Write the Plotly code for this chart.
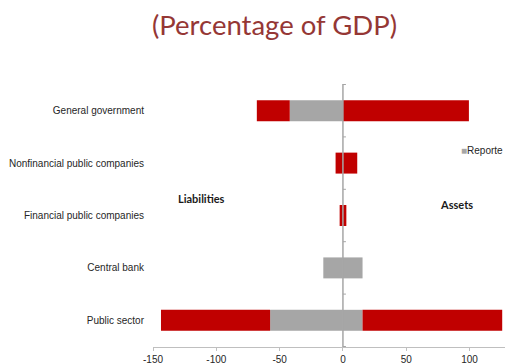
import plotly.graph_objects as go

# Public sector balance sheet, % of GDP
categories = [
    "General government",
    "Nonfinancial public companies",
    "Financial public companies",
    "Central bank",
    "Public sector",
]
reporte_liabilities = [-42.0, 0.0, 0.0, -15.5, -57.5]
reporte_assets = [0.0, 0.0, 0.0, 15.5, 15.5]
other_liabilities = [-26.0, -5.8, -2.6, 0.0, -86.2]
other_assets = [99.5, 11.3, 2.7, 0.0, 110.3]

x_ticks = [-150, -100, -50, 0, 50, 100]
x_range = [-150, 128]

RED = "#C00000"
GREY = "#A6A6A6"
AXIS_GREY = "#A6A6A6"
TEXT = "#262626"

fig = go.Figure()
for vals, color in [
    (reporte_liabilities, GREY),
    (reporte_assets, GREY),
    (other_liabilities, RED),
    (other_assets, RED),
]:
    fig.add_trace(go.Bar(
        y=categories, x=vals, orientation="h",
        marker=dict(color=color, line=dict(width=0)),
        showlegend=False, hoverinfo="skip",
    ))

# vertical axis crossing at zero, with tick marks on the category boundaries
shapes = [dict(type="line", xref="x", yref="paper", x0=0, x1=0, y0=0, y1=1,
               line=dict(color=AXIS_GREY, width=1.5), layer="above")]
for i in range(len(categories) + 1):
    yb = i - 0.5
    shapes.append(dict(type="line", xref="x", yref="y", xsizemode="pixel", xanchor=0,
                       x0=0, x1=3, y0=yb, y1=yb,
                       line=dict(color=AXIS_GREY, width=1), layer="above"))

fig.update_layout(
    width=505, height=364,
    margin=dict(l=153, r=0, t=84, b=17),
    paper_bgcolor="white", plot_bgcolor="white",
    barmode="relative", bargap=0.6,
    font=dict(family="Liberation Sans, Arial, sans-serif", size=10, color=TEXT),
    title=dict(text="(Percentage of GDP)", x=274.5 / 505, xanchor="center",
               y=1 - 25 / 364, yanchor="middle",
               font=dict(family="Lato, sans-serif", size=27.5, color="#953735")),
    xaxis=dict(range=x_range, tickvals=x_ticks, ticktext=[str(v) for v in x_ticks],
               showgrid=False, zeroline=False,
               showline=True, linecolor="#BFBFBF", linewidth=1,
               ticks="outside", ticklen=3, tickcolor="#BFBFBF",
               tickfont=dict(size=10, color=TEXT)),
    yaxis=dict(type="category", categoryorder="array", categoryarray=categories,
               autorange="reversed", showgrid=False, zeroline=False, showline=False,
               ticks="", ticklabelstandoff=8, tickfont=dict(size=10, color=TEXT)),
    shapes=shapes,
    annotations=[
        dict(text="<b>Liabilities</b>", xref="paper", yref="paper",
             x=(201.5 - 153) / 352, y=(347 - 198) / 263,
             xanchor="center", yanchor="middle", showarrow=False,
             font=dict(family="Lato, sans-serif", size=11, color="#1a1a1a")),
        dict(text="<b>Assets</b>", xref="paper", yref="paper",
             x=(456 - 153) / 352, y=(347 - 204) / 263,
             xanchor="center", yanchor="middle", showarrow=False,
             font=dict(family="Lato, sans-serif", size=11, color="#1a1a1a")),
        dict(text=f"<span style='color:{GREY}'>■</span>Reporte", xref="paper", yref="paper",
             x=1.0, xanchor="right", y=(347 - 150) / 263, yanchor="middle",
             showarrow=False, font=dict(size=10, color=TEXT)),
    ],
)

fig.write_html("out.html")
